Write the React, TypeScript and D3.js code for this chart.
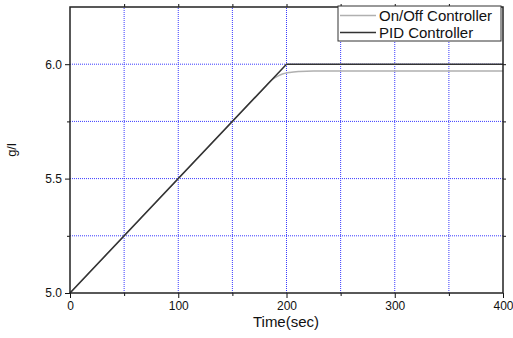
import React, { useRef, useEffect } from 'react';
import * as d3 from 'd3';

const pidTime = [0, 200, 400];
const pidValue = [5.0, 6.0, 6.0];
const onOffTime = [0, 100, 150, 180, 186, 192, 197, 203, 212, 225, 400];
const onOffValue = [5.0, 5.5, 5.75, 5.9, 5.93, 5.948, 5.958, 5.964, 5.968, 5.97, 5.97];
const xTickLabels = [0, 100, 200, 300, 400];
const yTickLabels = [5.0, 5.5, 6.0];
const xGrid = [50, 100, 150, 200, 250, 300, 350];
const yGrid = [5.25, 5.5, 5.75, 6.0];
const seriesNames = ['On/Off Controller', 'PID Controller'];

const App = () => {
  const svgRef = useRef<SVGSVGElement>(null);

  useEffect(() => {
    const width = 513, height = 338;
    const m = { left: 70, right: 10, top: 7, bottom: 45 };
    const svg = d3.select(svgRef.current);
    svg.selectAll('*').remove();
    svg.attr('width', width).attr('height', height)
      .style('font-family', '"Liberation Sans", Arial, sans-serif');

    const x = d3.scaleLinear().domain([0, 400]).range([m.left, width - m.right]);
    const y = d3.scaleLinear().domain([5.0, 6.25]).range([height - m.bottom, m.top]);

    // dotted blue grid
    const g = svg.append('g');
    xGrid.forEach(v => {
      g.append('line').attr('x1', x(v)).attr('x2', x(v)).attr('y1', y(5.0)).attr('y2', y(6.25))
        .attr('stroke', '#3a3aff').attr('stroke-width', 1).attr('stroke-dasharray', '1,1');
    });
    yGrid.forEach(v => {
      g.append('line').attr('x1', x(0)).attr('x2', x(400)).attr('y1', y(v)).attr('y2', y(v))
        .attr('stroke', '#3a3aff').attr('stroke-width', 1).attr('stroke-dasharray', '1,1');
    });

    // series
    const toPts = (ts: number[], vs: number[]) => ts.map((t, i) => [t, vs[i]] as [number, number]);
    const line = d3.line<[number, number]>().x(d => x(d[0])).y(d => y(d[1]));
    svg.append('path').datum(toPts(onOffTime, onOffValue))
      .attr('fill', 'none').attr('stroke', '#b0b0b0').attr('stroke-width', 1.5)
      .attr('d', line.curve(d3.curveMonotoneX));
    svg.append('path').datum(toPts(pidTime, pidValue))
      .attr('fill', 'none').attr('stroke', '#333').attr('stroke-width', 1.5)
      .attr('d', line.curve(d3.curveLinear));

    // axes
    svg.append('g').attr('transform', `translate(0,${y(5.0)})`)
      .call(d3.axisBottom(x).tickValues(xTickLabels).tickSize(5).tickFormat(d3.format('d')))
      .select('.domain').remove();
    svg.append('g').attr('transform', `translate(0,${y(5.0)})`)
      .call(d3.axisBottom(x).tickValues([50, 150, 250, 350]).tickSize(3).tickFormat(() => ''))
      .select('.domain').remove();
    svg.append('g').attr('transform', `translate(${x(0)},0)`)
      .call(d3.axisLeft(y).tickValues(yTickLabels).tickSize(5).tickFormat(d3.format('.1f')))
      .select('.domain').remove();
    svg.append('g').attr('transform', `translate(${x(0)},0)`)
      .call(d3.axisLeft(y).tickValues([5.25, 5.75]).tickSize(3).tickFormat(() => ''))
      .select('.domain').remove();
    svg.append('g').attr('transform', `translate(0,${y(6.25)})`)
      .call(d3.axisTop(x).tickValues(xGrid).tickSize(3).tickFormat(() => ''))
      .select('.domain').remove();
    svg.append('g').attr('transform', `translate(${x(400)},0)`)
      .call(d3.axisRight(y).tickValues(yGrid).tickSize(3).tickFormat(() => ''))
      .select('.domain').remove();

    svg.selectAll('.tick text').attr('font-size', 12).attr('fill', '#111')
      .attr('font-family', '"Liberation Sans", Arial, sans-serif');
    svg.selectAll('.tick line').attr('stroke', '#111');

    svg.append('rect').attr('x', x(0)).attr('y', y(6.25)).attr('width', x(400) - x(0))
      .attr('height', y(5.0) - y(6.25)).attr('fill', 'none').attr('stroke', '#222').attr('stroke-width', 1.5);

    // axis titles
    svg.append('text').attr('x', 286).attr('y', 327).attr('text-anchor', 'middle')
      .attr('font-size', 15).attr('fill', '#111').text('Time(sec)');
    svg.append('text').attr('transform', `translate(16,${y(5.625)}) rotate(-90)`)
      .attr('text-anchor', 'middle').attr('font-size', 13).attr('fill', '#111').text('g/l');

    // legend
    const lg = svg.append('g');
    lg.append('rect').attr('x', 338).attr('y', 6).attr('width', 163).attr('height', 35)
      .attr('fill', 'white').attr('stroke', '#333').attr('stroke-width', 1);
    const colors = ['#b0b0b0', '#333'];
    seriesNames.forEach((name, i) => {
      const yy = 15.5 + i * 17;
      lg.append('line').attr('x1', 340).attr('x2', 376).attr('y1', yy).attr('y2', yy)
        .attr('stroke', colors[i]).attr('stroke-width', 1.5);
      lg.append('text').attr('x', 379).attr('y', yy + 5).attr('font-size', 15)
        .attr('fill', '#111').text(name);
    });
  }, []);

  return <svg ref={svgRef} style={{ position: 'absolute', left: 0, top: 0 }}></svg>;
};

export default App;
